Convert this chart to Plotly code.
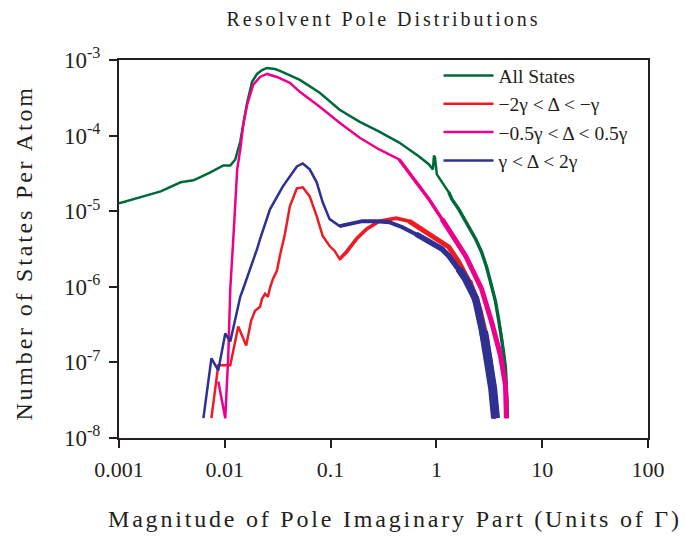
import plotly.graph_objects as go

# Resolvent pole distributions: number of states per atom vs |Im(pole)| (units of Gamma)

green_x = [0.001, 0.00161, 0.00248, 0.00382, 0.00506, 0.00731, 0.00968, 0.01127, 0.01256, 0.0140,
           0.01626, 0.01811, 0.02018, 0.02249, 0.02506, 0.02978, 0.0332, 0.0512, 0.0789, 0.1217,
           0.187, 0.288, 0.445, 0.686, 0.851, 0.927, 0.948, 0.969, 1.01, 1.31,
           1.40, 1.63, 2.02, 2.35, 2.67, 2.98, 3.32, 3.62, 3.86, 4.12,
           4.30, 4.50, 4.59, 4.69, 4.69]
green_y = [1.27e-5, 1.53e-5, 1.83e-5, 2.41e-5, 2.56e-5, 3.26e-5, 4.03e-5, 4.03e-5, 4.83e-5, 8.34e-5,
           2.72e-4, 5.14e-4, 6.54e-4, 7.38e-4, 7.85e-4, 7.61e-4, 7.17e-4, 5.45e-4, 3.68e-4, 2.20e-4,
           1.53e-4, 1.13e-4, 8.09e-5, 5.29e-5, 4.15e-5, 3.57e-5, 5.46e-5, 5.14e-5, 3.07e-5, 1.78e-5,
           1.44e-5, 1.06e-5, 6.35e-6, 4.28e-6, 2.89e-6, 1.83e-6, 1.03e-6, 6.35e-7, 3.79e-7, 2.26e-7,
           1.40e-7, 8.34e-8, 4.98e-8, 2.89e-8, 1.83e-8]

red_x = [0.00747, 0.00868, 0.01127, 0.01340, 0.01592, 0.01775, 0.01933, 0.02153, 0.02249, 0.0240,
         0.0256, 0.02673, 0.0285, 0.0311, 0.0332, 0.0370, 0.0412, 0.0480, 0.0546, 0.0635,
         0.0739, 0.0842, 0.0979, 0.1092, 0.1217, 0.1413, 0.1753, 0.218, 0.288, 0.417,
         0.552, 0.731, 0.988, 1.31, 1.63, 2.02, 2.51, 2.92, 3.25, 3.50,
         3.62]
red_y = [1.83e-8, 9.14e-8, 9.14e-8, 2.98e-7, 1.67e-7, 3.57e-7, 4.83e-7, 5.45e-7, 6.95e-7, 8.09e-7,
         7.38e-7, 9.71e-7, 1.27e-6, 1.63e-6, 2.6e-6, 4.98e-6, 1.16e-5, 2.01e-5, 2.07e-5, 1.57e-5,
         8.59e-6, 4.69e-6, 3.46e-6, 2.98e-6, 2.33e-6, 2.89e-6, 4.28e-6, 5.79e-6, 7.38e-6, 8.09e-6,
         7.38e-6, 5.79e-6, 4.28e-6, 3.36e-6, 2.13e-6, 1.2e-6, 5.14e-7, 2.07e-7, 8.34e-8, 3.36e-8,
         1.83e-8]

pink_x = [0.00868, 0.0101, 0.01079, 0.01127, 0.01203, 0.01256, 0.01310, 0.0140, 0.01493, 0.01626,
          0.01854, 0.02153, 0.02506, 0.0311, 0.0412, 0.0512, 0.0789, 0.1217, 0.187, 0.288,
          0.445, 0.643, 0.851, 1.13, 1.31, 1.89, 2.67, 3.32, 4.03, 4.50,
          4.59]
pink_y = [5.6e-8, 1.83e-8, 1.24e-7, 9.42e-7, 4.28e-6, 1.44e-5, 3.57e-5, 6.55e-5, 1.40e-4, 2.56e-4,
          4.69e-4, 5.97e-4, 6.54e-4, 5.97e-4, 4.98e-4, 3.79e-4, 2.41e-4, 1.48e-4, 9.42e-5, 6.55e-5,
          4.83e-5, 2.41e-5, 1.44e-5, 7.85e-6, 5.79e-6, 2.56e-6, 9.42e-7, 3.46e-7, 1.24e-7, 4.98e-8,
          1.83e-8]

blue_x = [0.00628, 0.00747, 0.00868, 0.0101, 0.01127, 0.0140, 0.01493, 0.01811, 0.02018, 0.02153,
          0.02673, 0.0354, 0.0480, 0.0546, 0.0635, 0.0739, 0.0842, 0.0979, 0.1217, 0.1507,
          0.1995, 0.270, 0.358, 0.474, 0.643, 0.851, 1.13, 1.31, 1.63, 1.89,
          2.35, 2.79, 3.11, 3.40, 3.62]
blue_y = [1.83e-8, 1.13e-7, 7.85e-8, 2.41e-7, 1.89e-7, 7.38e-7, 9.42e-7, 2.01e-6, 3.16e-6, 4.28e-6,
          1.06e-5, 2.13e-5, 3.91e-5, 4.28e-5, 3.57e-5, 2.41e-5, 1.31e-5, 7.85e-6, 6.35e-6, 6.75e-6,
          7.38e-6, 7.38e-6, 7.16e-6, 6.15e-6, 4.98e-6, 4.03e-6, 3.16e-6, 2.56e-6, 1.73e-6, 1.27e-6,
          6.95e-7, 2.56e-7, 1.13e-7, 4.55e-8, 1.83e-8]

x_tick_vals = [0.001, 0.01, 0.1, 1, 10, 100]
x_tick_text = ["0.001", "0.01", "0.1", "1", "10", "100"]
y_tick_vals = [1e-8, 1e-7, 1e-6, 1e-5, 1e-4, 1e-3]
y_tick_text = ["10<sup>-8</sup>", "10<sup>-7</sup>", "10<sup>-6</sup>",
               "10<sup>-5</sup>", "10<sup>-4</sup>", "10<sup>-3</sup>"]

# name, x, y, colour, noisy-tail stages (start x, stroke width) that thicken the line
series = [
    ("All States", green_x, green_y, "#00693a", [(1.2, 3.4)]),
    ("\u22122\u03b3 < \u0394 < \u2212\u03b3", red_x, red_y, "#ed1c24", [(0.12, 3.6), (0.5, 5.0), (2.0, 7.0)]),
    ("\u22120.5\u03b3 < \u0394 < 0.5\u03b3", pink_x, pink_y, "#ec008c", [(0.4, 3.5), (1.0, 5.0)]),
    ("\u03b3 < \u0394 < 2\u03b3", blue_x, blue_y, "#2e3192", [(0.12, 4.0), (0.5, 5.5), (1.5, 7.5), (2.7, 9.0)]),
]

FONT = "Liberation Serif"
INK = "#231f20"

fig = go.Figure()
for name, xs, ys, color, stages in series:
    fig.add_trace(go.Scatter(x=xs, y=ys, mode="lines", name=name,
                             line=dict(color=color, width=2.5)))
    for start, width in stages:
        tx = [x for x in xs if x >= start]
        ty = [y for x, y in zip(xs, ys) if x >= start]
        fig.add_trace(go.Scatter(x=tx, y=ty, mode="lines", showlegend=False,
                                 hoverinfo="skip", line=dict(color=color, width=width)))

axis_common = dict(
    type="log", showline=True, linecolor=INK, linewidth=2, mirror=True,
    ticks="outside", ticklen=8, tickwidth=2, tickcolor=INK,
    showgrid=False, zeroline=False,
)

fig.update_xaxes(range=[-3, 2], tickvals=x_tick_vals, ticktext=x_tick_text,
                 ticklabelstandoff=3, tickfont=dict(family=FONT, size=22, color=INK),
                 **axis_common)
fig.update_yaxes(range=[-8, -3], tickvals=y_tick_vals, ticktext=y_tick_text,
                 ticklabelstandoff=4, tickfont=dict(family=FONT, size=23, color=INK),
                 **axis_common)

fig.update_layout(
    width=685, height=536,
    margin=dict(l=119, r=37, t=60, b=98),
    paper_bgcolor="white", plot_bgcolor="white",
    font=dict(family=FONT, color=INK),
    title=dict(text="Resolvent Pole Distributions", x=0.5, xref="paper",
               y=1 - 18.5 / 536, yref="container", yanchor="middle", xanchor="center",
               font=dict(family=FONT, size=20, color=INK)),
    legend=dict(x=0.604, y=1.01, xanchor="left", yanchor="top",
                bgcolor="rgba(0,0,0,0)", borderwidth=0, itemwidth=50,
                font=dict(family=FONT, size=19.5, color=INK)),
    showlegend=True,
    annotations=[
        dict(text="Number of States Per Atom", textangle=-90, xref="paper", yref="paper",
             x=-0.18, y=0.49, xanchor="center", yanchor="middle", showarrow=False,
             font=dict(family=FONT, size=24, color=INK)),
        dict(text="Magnitude of Pole Imaginary Part (Units of \u0393)", xref="paper", yref="paper",
             x=0.522, y=-0.215, xanchor="center", yanchor="middle", showarrow=False,
             font=dict(family=FONT, size=24, color=INK)),
    ],
)

tracking = """
var gd = document.getElementById('{plot_id}');
function applyTracking() {
  var rules = [['.gtitle', '3px'], ['.annotation-text', '2.8px']];
  rules.forEach(function (r) {
    gd.querySelectorAll(r[0]).forEach(function (el) { el.style.letterSpacing = r[1]; });
  });
}
applyTracking();
gd.on('plotly_afterplot', applyTracking);
"""

fig.write_html("out.html", post_script=tracking)
